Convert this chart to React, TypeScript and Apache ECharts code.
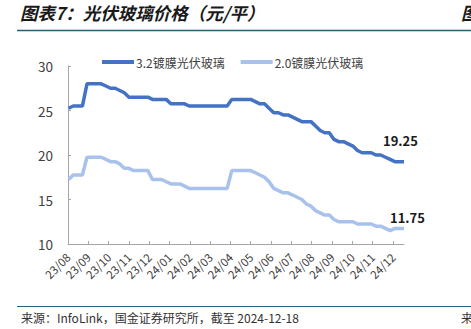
import React, { useEffect, useRef } from "react";
import * as echarts from "echarts";

const weekDates: string[] = [
  "2023-08-02", "2023-08-09", "2023-08-16", "2023-08-23", "2023-08-30",
  "2023-09-06", "2023-09-13", "2023-09-20", "2023-09-27",
  "2023-10-04", "2023-10-11", "2023-10-18", "2023-10-25",
  "2023-11-01", "2023-11-08", "2023-11-15", "2023-11-22", "2023-11-29",
  "2023-12-06", "2023-12-13", "2023-12-20", "2023-12-27",
  "2024-01-03", "2024-01-10", "2024-01-17", "2024-01-24", "2024-01-31",
  "2024-02-07", "2024-02-14", "2024-02-21", "2024-02-28",
  "2024-03-06", "2024-03-13", "2024-03-20", "2024-03-27",
  "2024-04-03", "2024-04-10", "2024-04-17", "2024-04-24",
  "2024-05-01", "2024-05-08", "2024-05-15", "2024-05-22", "2024-05-29",
  "2024-06-05", "2024-06-12", "2024-06-19", "2024-06-26",
  "2024-07-03", "2024-07-10", "2024-07-17", "2024-07-24", "2024-07-31",
  "2024-08-07", "2024-08-14", "2024-08-21", "2024-08-28",
  "2024-09-04", "2024-09-11", "2024-09-18", "2024-09-25",
  "2024-10-02", "2024-10-09", "2024-10-16", "2024-10-23", "2024-10-30",
  "2024-11-06", "2024-11-13", "2024-11-20", "2024-11-27",
  "2024-12-04", "2024-12-11", "2024-12-18",
];

const glass32: number[] = [
  25.25, 25.5, 25.5, 25.5, 28,
  28, 28, 28, 27.75,
  27.5, 27.5, 27.25, 27,
  26.5, 26.5, 26.5, 26.5, 26.5,
  26.25, 26.25, 26.25, 26.25,
  25.75, 25.75, 25.75, 25.75, 25.5,
  25.5, 25.5, 25.5, 25.5,
  25.5, 25.5, 25.5, 25.5,
  26.25, 26.25, 26.25, 26.25,
  26.25, 26, 25.75, 25.75, 25.25,
  24.75, 24.75, 24.5, 24.5,
  24.25, 24, 23.75, 23.75, 23.75,
  23.25, 22.75, 22.5, 22.5,
  21.75, 21.5, 21.5, 21.25,
  21, 20.5, 20.25, 20.25, 20.25,
  20, 20, 19.75, 19.5,
  19.25, 19.25, 19.25,
];

const glass20: number[] = [
  17.25, 17.75, 17.75, 17.75, 19.75,
  19.75, 19.75, 19.75, 19.5,
  19.25, 19.25, 19, 18.5,
  18.5, 18.25, 18.25, 18.25, 18.25,
  17.25, 17.25, 17.25, 17,
  16.75, 16.75, 16.75, 16.5, 16.25,
  16.25, 16.25, 16.25, 16.25,
  16.25, 16.25, 16.25, 16.25,
  18.25, 18.25, 18.25, 18.25,
  18.25, 18, 17.75, 17.5, 17,
  16.25, 16, 15.75, 15.75,
  15.5, 15.25, 15, 14.5, 14.25,
  13.75, 13.5, 13.25, 13.25,
  12.75, 12.5, 12.5, 12.5,
  12.5, 12.25, 12.25, 12.25, 12.25,
  12, 12, 11.75, 11.5,
  11.75, 11.75, 11.75,
];

const monthLabels: string[] = [
  "23/08", "23/09", "23/10", "23/11", "23/12", "24/01", "24/02", "24/03",
  "24/04", "24/05", "24/06", "24/07", "24/08", "24/09", "24/10", "24/11", "24/12",
];

const seriesNames: string[] = ["3.2镀膜光伏玻璃", "2.0镀膜光伏玻璃"];
const yTicks: number[] = [10, 15, 20, 25, 30];

const FONT = "'Noto Sans CJK SC', 'Noto Sans', sans-serif";

// month offset from 2023-08-01 (axis unit = one month)
function toMonthPos(d: string): number {
  const [y, m, day] = d.split("-").map(Number);
  const dim = new Date(y, m, 0).getDate();
  return (y - 2023) * 12 + (m - 8) + (day - 1) / dim;
}

function buildData(values: number[]) {
  return values.map((v, i) => [toMonthPos(weekDates[i]), v]);
}

function endLabel(offset: number[]) {
  return {
    show: true,
    offset,
    formatter: (p: any) => String(p.value[1]),
    fontFamily: FONT,
    fontSize: 13,
    fontWeight: "bold",
    color: "#1a1a1a",
  };
}

export default function App() {
  const ref = useRef<HTMLDivElement>(null);
  useEffect(() => {
    if (!ref.current) return;
    const chart = echarts.init(ref.current, null, { renderer: "svg" });
    chart.setOption({
      animation: false,
      backgroundColor: "#ffffff",
      textStyle: { fontFamily: FONT },
      graphic: [
        {
          type: "text",
          left: 20,
          top: 4,
          style: {
            text: "图表7：光伏玻璃价格（元/平）",
            fontFamily: FONT,
            fontSize: 17.5,
            fontStyle: "italic",
            fontWeight: "bold",
            fill: "#1a1a1a",
          },
        },
        {
          type: "text",
          left: 461,
          top: 4,
          style: {
            text: "图",
            fontFamily: FONT,
            fontSize: 17.5,
            fontStyle: "italic",
            fontWeight: "bold",
            fill: "#1a1a1a",
          },
        },
        {
          type: "line",
          shape: { x1: 17, y1: 30.5, x2: 471, y2: 30.5 },
          style: { stroke: "#2f5d78", lineWidth: 1.5 },
        },
        {
          type: "line",
          shape: { x1: 17, y1: 306.5, x2: 471, y2: 306.5 },
          style: { stroke: "#2f5d78", lineWidth: 1.2 },
        },
        {
          type: "text",
          left: 21,
          top: 311,
          style: {
            text: "来源：InfoLink，国金证券研究所，截至 2024-12-18",
            fontFamily: FONT,
            fontSize: 12,
            fill: "#333333",
          },
        },
        {
          type: "text",
          left: 461,
          top: 311,
          style: { text: "来", fontFamily: FONT, fontSize: 12, fill: "#333333" },
        },
      ],
      legend: {
        left: 97,
        top: 51,
        itemWidth: 32,
        itemHeight: 4,
        itemGap: 16,
        icon: "rect",
        textStyle: { fontFamily: FONT, fontSize: 12, color: "#404040", padding: [0, 0, 0, -3] },
        data: seriesNames,
      },
      grid: { left: 68, right: 67, top: 66, bottom: 85, containLabel: false },
      xAxis: {
        type: "value",
        min: 0,
        max: "dataMax",
        axisLine: { show: true, lineStyle: { color: "#a6a6a6", width: 1 } },
        axisTick: {
          show: true,
          inside: true,
          length: 3,
          lineStyle: { color: "#a6a6a6" },
          customValues: monthLabels.map((_, i) => i),
        },
        axisLabel: {
          rotate: 45,
          margin: 11,
          fontFamily: FONT,
          fontSize: 11.5,
          color: "#404040",
          customValues: monthLabels.map((_, i) => i),
          formatter: (v: number) => monthLabels[Math.round(v)] ?? "",
        },
        splitLine: { show: false },
      },
      yAxis: {
        type: "value",
        min: yTicks[0],
        max: yTicks[yTicks.length - 1],
        interval: 5,
        axisLine: { show: true, lineStyle: { color: "#a6a6a6", width: 1 } },
        axisTick: { show: true, inside: true, length: 3, lineStyle: { color: "#a6a6a6" } },
        axisLabel: { fontFamily: FONT, fontSize: 13.5, color: "#404040", margin: 15 },
        splitLine: { show: false },
      },
      series: [
        {
          name: seriesNames[0],
          type: "line",
          symbol: "none",
          data: buildData(glass32),
          lineStyle: { color: "#4472c4", width: 3.5 },
          itemStyle: { color: "#4472c4" },
          endLabel: endLabel([-29, -21]),
        },
        {
          name: seriesNames[1],
          type: "line",
          symbol: "none",
          data: buildData(glass20),
          lineStyle: { color: "#a9c2ec", width: 3.5 },
          itemStyle: { color: "#a9c2ec" },
          endLabel: endLabel([-22, -11]),
        },
      ],
    });
    return () => chart.dispose();
  }, []);
  return (
    <div
      ref={ref}
      style={{ position: "fixed", left: 0, top: 0, width: 471, height: 329 }}
    />
  );
}
